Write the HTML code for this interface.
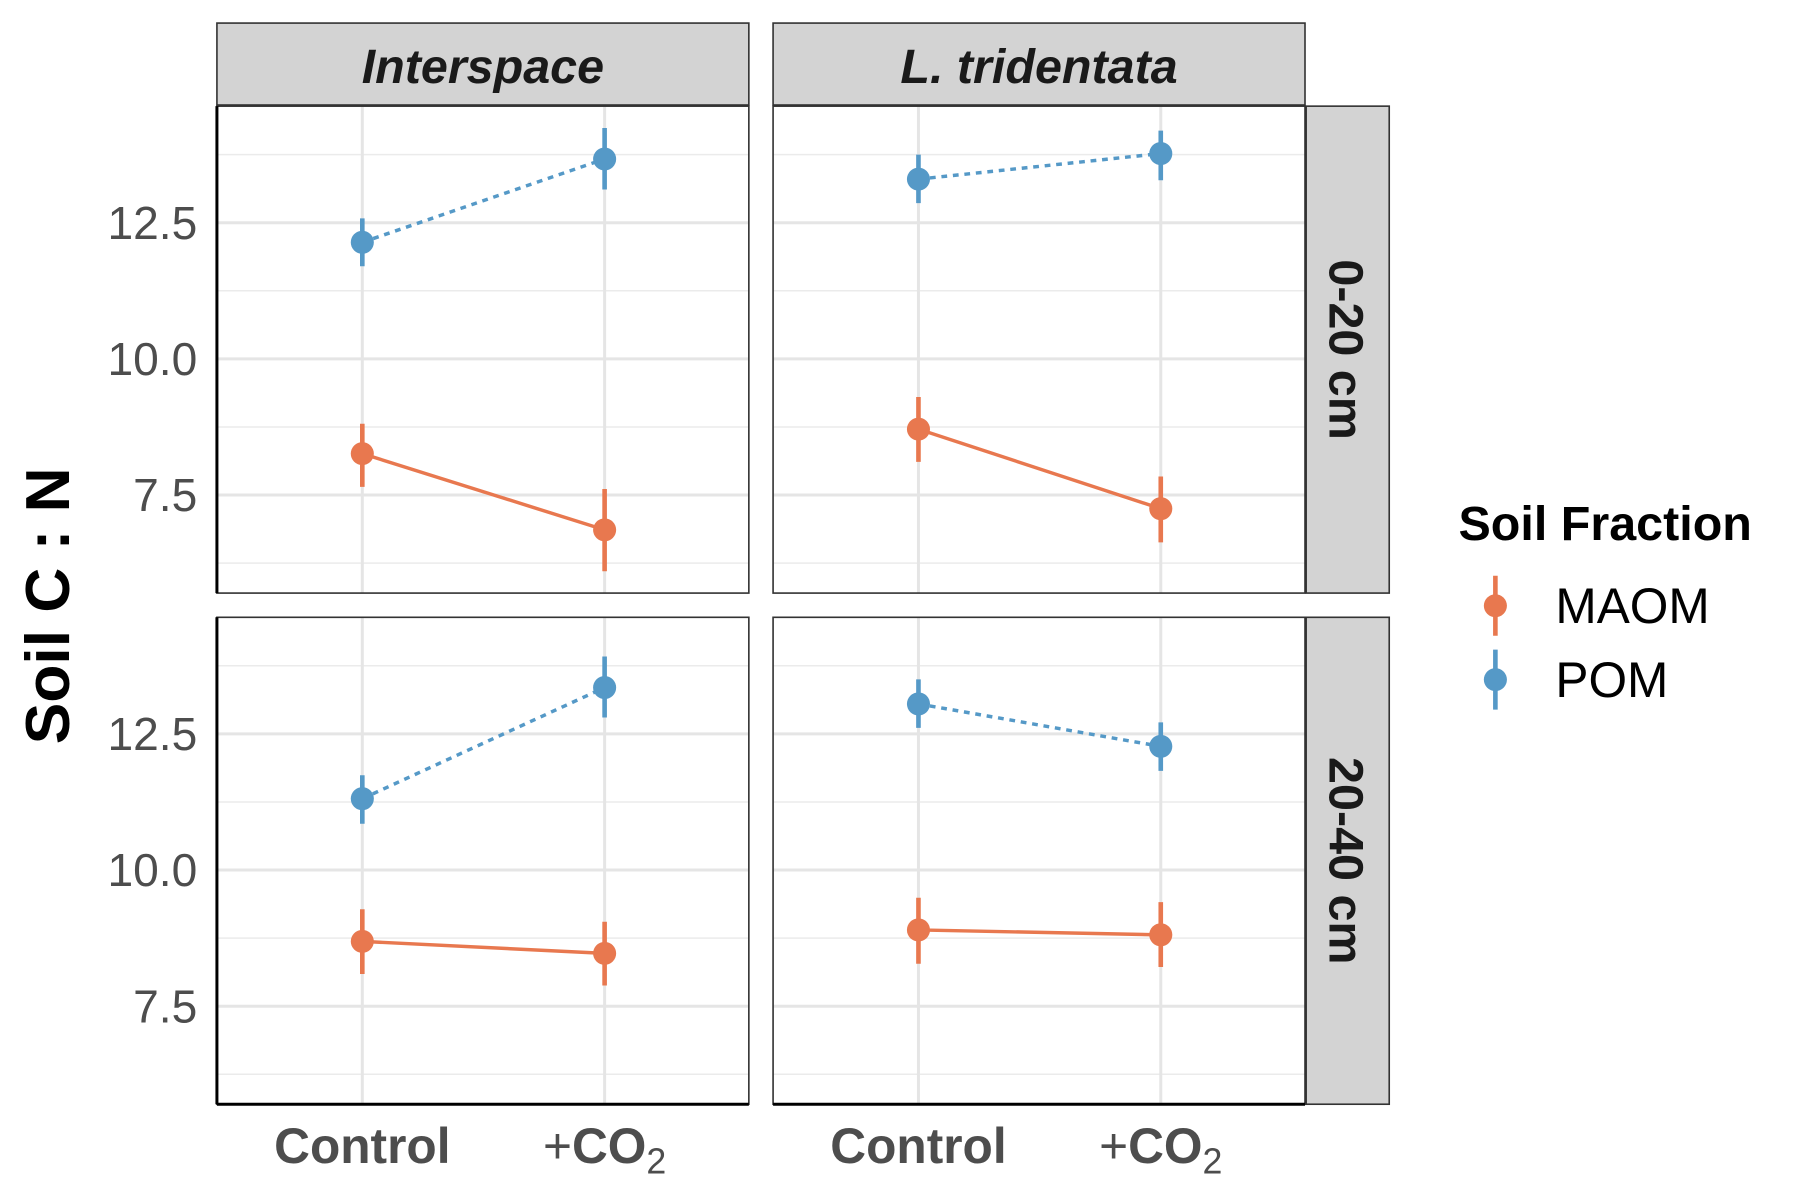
<!DOCTYPE html>
<html><head><meta charset="utf-8"><style>
html,body{margin:0;padding:0;background:#fff;}
svg{display:block;font-family:"Liberation Sans",Arial,sans-serif;}
</style></head><body>
<svg id="chart" width="1800" height="1200" viewBox="0 0 1560 1040" preserveAspectRatio="none" xmlns="http://www.w3.org/2000/svg"></svg>
<script>
const categories = ["Control", "+CO2"];
const columns = ["Interspace", "L. tridentata"];
const rows = ["0-20 cm", "20-40 cm"];
const fractions = ["MAOM", "POM"];
const yTicks = [7.5, 10.0, 12.5];
const yTickLabels = ["7.5", "10.0", "12.5"];
const yMinor = [6.25, 8.75, 11.25, 13.75];
// values [row][col][category]
const maomMean = [[[8.26, 6.86], [8.71, 7.25]], [[8.69, 8.47], [8.90, 8.81]]];
const maomLow  = [[[7.65, 6.10], [8.11, 6.63]], [[8.09, 7.88], [8.28, 8.22]]];
const maomHigh = [[[8.81, 7.61], [9.30, 7.84]], [[9.28, 9.05], [9.49, 9.41]]];
const pomMean  = [[[12.14, 13.67], [13.30, 13.77]], [[11.31, 13.35], [13.05, 12.27]]];
const pomLow   = [[[11.70, 13.11], [12.86, 13.28]], [[10.85, 12.80], [12.61, 11.82]]];
const pomHigh  = [[[12.58, 14.24], [13.75, 14.19]], [[11.74, 13.92], [13.50, 12.71]]];

const NS = "http://www.w3.org/2000/svg";
const svg = document.getElementById("chart");
function mk(tag, attrs, parent, text) {
  const e = document.createElementNS(NS, tag);
  for (const k in attrs) e.setAttribute(k, attrs[k]);
  if (text !== undefined) e.textContent = text;
  (parent || svg).appendChild(e);
  return e;
}
const colX = [188, 670], panelW = 461;
const rowY = [92, 535], panelH = 422;
const yMinV = 5.7, yMaxV = 14.64;
function yScale(v, r) { return rowY[r] + panelH - (v - yMinV) / (yMaxV - yMinV) * panelH; }
function xScale(i, c) { return colX[c] + 126 + i * 210; }
const colors = { MAOM: "#e8784f", POM: "#5599c7" };

for (let r = 0; r < 2; r++) {
  for (let c = 0; c < 2; c++) {
    const g = mk("g", {});
    
    
    mk("rect", {x: colX[c], y: rowY[r], width: panelW, height: panelH, fill: "#fff"}, g);
    yMinor.forEach(v => mk("line", {x1: colX[c], x2: colX[c] + panelW, y1: yScale(v, r), y2: yScale(v, r), stroke: "#ebebeb", "stroke-width": 1.3}, g));
    yTicks.forEach(v => mk("line", {x1: colX[c], x2: colX[c] + panelW, y1: yScale(v, r), y2: yScale(v, r), stroke: "#e5e5e5", "stroke-width": 2.6}, g));
    categories.forEach((k, i) => mk("line", {x1: xScale(i, c), x2: xScale(i, c), y1: rowY[r], y2: rowY[r] + panelH, stroke: "#e5e5e5", "stroke-width": 2.6}, g));
    mk("rect", {x: colX[c], y: rowY[r], width: panelW, height: panelH, fill: "none", stroke: "#333", "stroke-width": 1.4}, g);
    if (c === 0) mk("line", {x1: colX[c], x2: colX[c], y1: rowY[r], y2: rowY[r] + panelH, stroke: "#000", "stroke-width": 2.6}, g);
    if (r === 1) mk("line", {x1: colX[c], x2: colX[c] + panelW, y1: rowY[r] + panelH, y2: rowY[r] + panelH, stroke: "#000", "stroke-width": 2.6}, g);
    [["MAOM", maomMean, maomLow, maomHigh, null], ["POM", pomMean, pomLow, pomHigh, "5,5"]].forEach(([name, m, lo, hi, dash]) => {
      const line = mk("line", {x1: xScale(0, c), y1: yScale(m[r][c][0], r), x2: xScale(1, c), y2: yScale(m[r][c][1], r), stroke: colors[name], "stroke-width": 3}, g);
      if (dash) line.setAttribute("stroke-dasharray", dash);
      
      
      for (let i = 0; i < 2; i++) {
        const eb = mk("line", {x1: xScale(i, c), x2: xScale(i, c), y1: yScale(lo[r][c][i], r), y2: yScale(hi[r][c][i], r), stroke: colors[name], "stroke-width": 4}, g);
        
        
        const pt = mk("circle", {cx: xScale(i, c), cy: yScale(m[r][c][i], r), r: 10, fill: colors[name]}, g);
        
        
      }
    });
  }
  yTicks.forEach((v, i) => {
    const t = mk("text", {x: 171, y: yScale(v, r) + 14, "text-anchor": "end", "font-size": 40, fill: "#4d4d4d", textLength: 0}, svg, yTickLabels[i]);
    t.removeAttribute("textLength");
    
    
  });
  const sg = mk("g", {});
  
  
  mk("rect", {x: 1132, y: rowY[r], width: 72, height: panelH, fill: "#d3d3d3", stroke: "#333", "stroke-width": 1.4}, sg);
  const cy = rowY[r] + panelH / 2;
  mk("text", {x: 1166, y: cy, transform: "rotate(90 1166 " + cy + ")", "text-anchor": "middle", "dominant-baseline": "central", "font-size": 42, "font-weight": "bold", fill: "#1a1a1a"}, sg, rows[r]);
}
for (let c = 0; c < 2; c++) {
  const sg = mk("g", {});
  
  
  mk("rect", {x: colX[c], y: 20, width: panelW, height: 71, fill: "#d3d3d3", stroke: "#333", "stroke-width": 1.4}, sg);
  mk("text", {x: colX[c] + panelW / 2, y: 72, "text-anchor": "middle", "font-size": 42, "font-weight": "bold", "font-style": "italic", fill: "#1a1a1a"}, sg, columns[c]);
  const t1 = mk("text", {x: xScale(0, c), y: 1008, "text-anchor": "middle", "font-size": 43, "font-weight": "bold", fill: "#4d4d4d"}, svg, "Control");
  
  
  const t2 = mk("text", {x: xScale(1, c), y: 1008, "text-anchor": "middle", "font-size": 43, "font-weight": "bold", fill: "#4d4d4d"}, svg);
  
  
  mk("tspan", {"font-weight": "normal"}, t2, "+");
  mk("tspan", {}, t2, "CO");
  mk("tspan", {"font-weight": "normal", "font-size": 31, dy: 9}, t2, "2");
}
const yt = mk("text", {x: 42, y: 525, transform: "rotate(-90 42 525)", "text-anchor": "middle", "dominant-baseline": "central", "font-size": 54, "font-weight": "bold", fill: "#000"}, svg, "Soil C : N");


const lg = mk("g", {});


mk("text", {x: 1264, y: 468, "font-size": 42, "font-weight": "bold", fill: "#000"}, lg, "Soil Fraction");
fractions.forEach((f, i) => {
  const y = 525 + i * 64;
  const e = mk("g", {}, lg);
  
  
  mk("line", {x1: 1296, x2: 1296, y1: y - 26, y2: y + 26, stroke: colors[f], "stroke-width": 4}, e);
  mk("circle", {cx: 1296, cy: y, r: 10, fill: colors[f]}, e);
  mk("text", {x: 1348, y: y + 15, "font-size": 43, fill: "#000"}, e, f);
});
</script>
</body></html>
